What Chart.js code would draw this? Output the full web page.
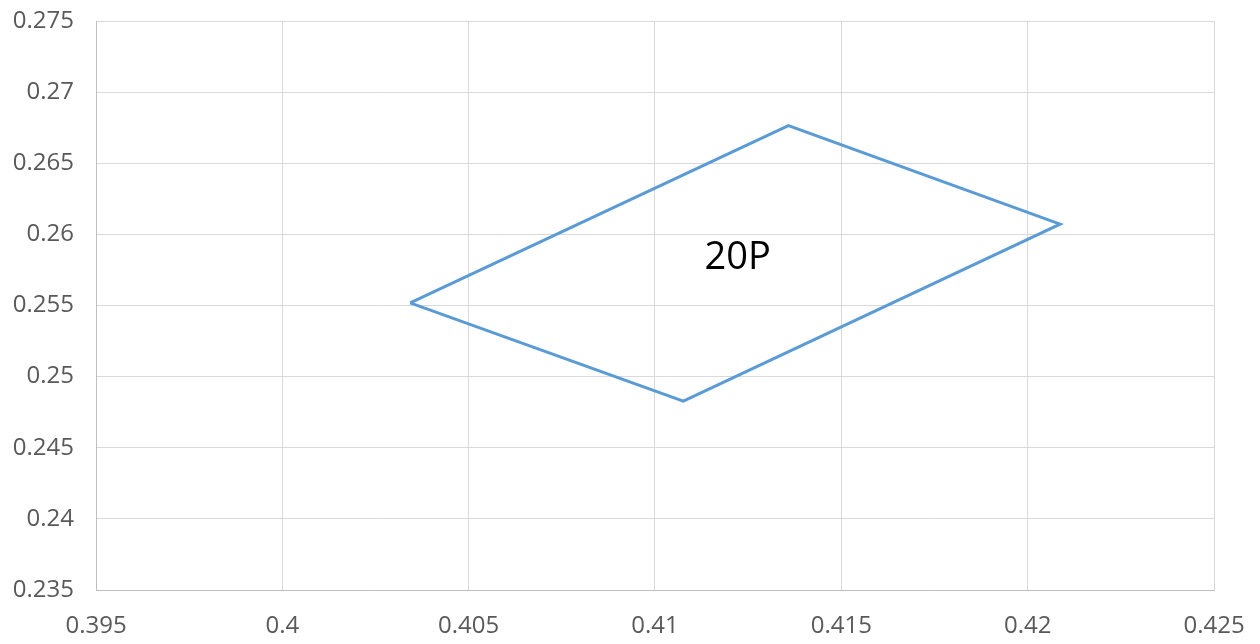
<!DOCTYPE html>
<html>
<head>
<meta charset="utf-8">
<script src="https://cdn.jsdelivr.net/npm/chart.js@4"></script>
<style>
html,body{margin:0;padding:0;background:#fff;}
#wrap{width:1260px;height:644px;position:relative;}
</style>
</head>
<body>
<div id="wrap"><canvas id="c" width="1260" height="644"></canvas></div>
<script>
// Data (closed quadrilateral)
const xValues = [0.40343, 0.41358, 0.42087, 0.41076, 0.40343];
const yValues = [0.25519, 0.26764, 0.26072, 0.24828, 0.25519];
const seriesLabel = "20P";
const labelX = 0.41222;
const labelY = 0.25756;
const xTicks = [0.395, 0.4, 0.405, 0.41, 0.415, 0.42, 0.425];
const yTicks = [0.235, 0.24, 0.245, 0.25, 0.255, 0.26, 0.265, 0.27, 0.275];

const points = xValues.map((x, i) => ({x: x, y: yValues[i]}));

const textPlugin = {
  id: 'seriesText',
  afterDatasetsDraw(chart) {
    const ctx = chart.ctx;
    const px = chart.scales.x.getPixelForValue(labelX);
    const py = chart.scales.y.getPixelForValue(labelY);
    ctx.save();
    ctx.font = '38px "Open Sans"';
    ctx.fillStyle = '#000000';
    ctx.textAlign = 'center';
    ctx.textBaseline = 'alphabetic';
    ctx.fillText(seriesLabel, px, py);
    ctx.restore();
  }
};

new Chart(document.getElementById('c'), {
  type: 'scatter',
  data: {
    datasets: [{
      label: seriesLabel,
      data: points,
      showLine: true,
      borderColor: '#5b9bd5',
      borderWidth: 3,
      pointRadius: 0,
      pointHoverRadius: 0,
      fill: false,
      tension: 0
    }]
  },
  options: {
    responsive: false,
    animation: false,
    devicePixelRatio: 1,
    layout: { padding: { left: 0, right: 46, top: 21, bottom: 0 } },
    plugins: { legend: { display: false }, tooltip: { enabled: false } },
    scales: {
      x: {
        type: 'linear',
        min: xTicks[0],
        max: xTicks[xTicks.length - 1],
        afterBuildTicks(scale) { scale.ticks = xTicks.map(v => ({value: v})); },
        afterFit(scale) { scale.height = 54; scale.paddingLeft = 0; scale.paddingRight = 0; },
        grid: { color: '#d9d9d9', lineWidth: 1, drawTicks: false },
        border: { color: '#bfbfbf', width: 1 },
        ticks: {
          color: '#595959',
          font: { family: '"Open Sans"', size: 24 },
          padding: 22,
          maxRotation: 0,
          autoSkip: false,
          callback: v => String(+v.toFixed(3))
        }
      },
      y: {
        type: 'linear',
        min: yTicks[0],
        max: yTicks[yTicks.length - 1],
        afterBuildTicks(scale) { scale.ticks = yTicks.map(v => ({value: v})); },
        afterFit(scale) { scale.width = 96; scale.paddingTop = 0; scale.paddingBottom = 0; },
        grid: { color: '#d9d9d9', lineWidth: 1, drawTicks: false },
        border: { color: '#bfbfbf', width: 1 },
        ticks: {
          color: '#595959',
          font: { family: '"Open Sans"', size: 24 },
          padding: 22,
          autoSkip: false,
          callback: v => String(+v.toFixed(3))
        }
      }
    }
  },
  plugins: [textPlugin]
});
</script>
</body>
</html>
